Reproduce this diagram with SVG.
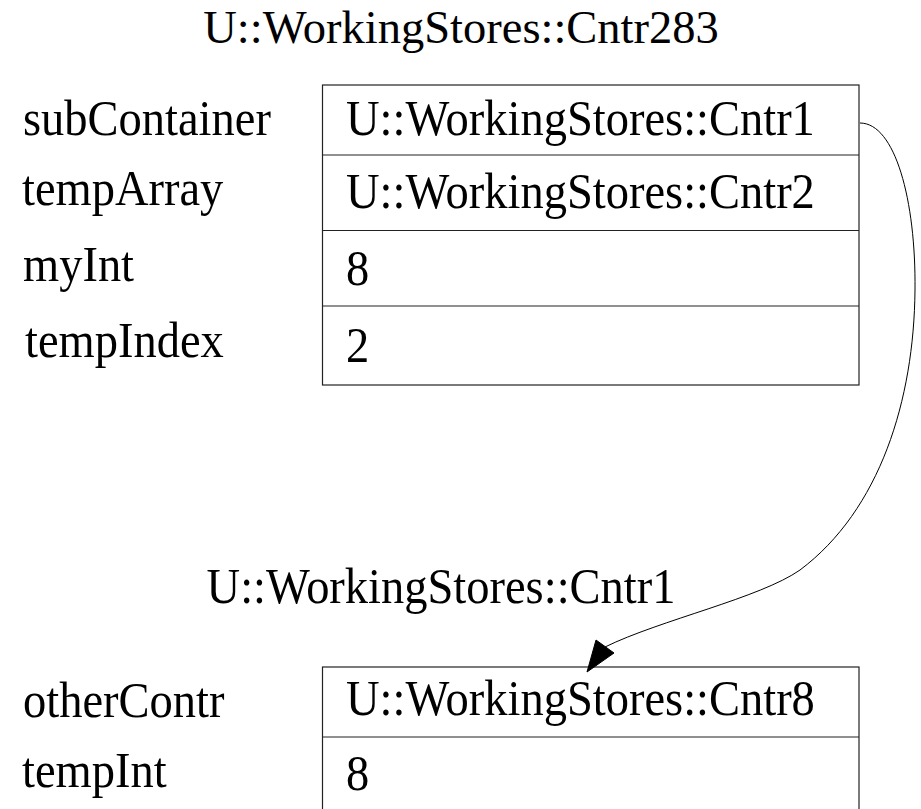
<svg xmlns="http://www.w3.org/2000/svg" width="921" height="809" viewBox="0 0 921 809">
<style>
text { font-family: "Liberation Serif", "Times New Roman", "DejaVu Serif", serif; font-size: 46.5px; fill: #000; }
.box { fill: none; stroke: #222; stroke-width: 1.2; }
.div { stroke: #222; stroke-width: 1.2; }
.edge { fill: none; stroke: #000; stroke-width: 1; }
</style>
<rect width="921" height="809" fill="#fff"/>
<g id="node-cntr283">
  <text x="461" y="43" text-anchor="middle">U::WorkingStores::Cntr283</text>
  <text transform="translate(23,135) scale(1,1.07)">subContainer</text>
  <text transform="translate(22,205) scale(1,1.07)">tempArray</text>
  <text transform="translate(23,281) scale(1,1.07)">myInt</text>
  <text transform="translate(25,357) scale(1,1.07)">tempIndex</text>
  <rect class="box" x="322.5" y="85" width="536.5" height="300"/>
  <line class="div" x1="322.5" y1="155" x2="859" y2="155"/>
  <line class="div" x1="322.5" y1="230.5" x2="859" y2="230.5"/>
  <line class="div" x1="322.5" y1="306" x2="859" y2="306"/>
  <text transform="translate(346,135) scale(1,1.07)">U::WorkingStores::Cntr1</text>
  <text transform="translate(346,208) scale(1,1.07)">U::WorkingStores::Cntr2</text>
  <text transform="translate(346,285) scale(1,1.07)">8</text>
  <text transform="translate(346,362) scale(1,1.07)">2</text>
</g>
<g id="node-cntr1">
  <text transform="translate(441,603) scale(1,1.07)" text-anchor="middle">U::WorkingStores::Cntr1</text>
  <text transform="translate(23,717) scale(1,1.07)">otherContr</text>
  <text transform="translate(22,787) scale(1,1.07)">tempInt</text>
  <rect class="box" x="322.5" y="667" width="536.5" height="160"/>
  <line class="div" x1="322.5" y1="737" x2="859" y2="737"/>
  <text transform="translate(346,715) scale(1,1.07)">U::WorkingStores::Cntr8</text>
  <text transform="translate(346,790) scale(1,1.07)">8</text>
</g>
<g id="connectors">
  <path class="edge" d="M860,123 C895,123 916,200 915,290 C914,400 880,510 800,570 C760,598 660,620 605,647"/>
  <polygon points="587,672 596,640 614,653" fill="#000" stroke="#000" stroke-width="1"/>
</g>
</svg>
